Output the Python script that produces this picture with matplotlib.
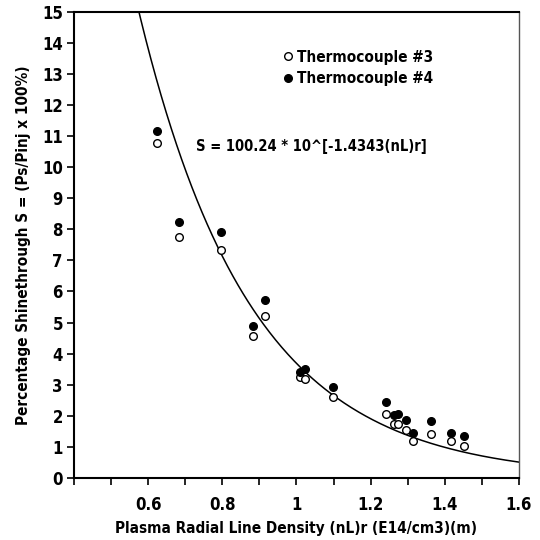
import numpy as np
import matplotlib
matplotlib.use("Agg")
import matplotlib.pyplot as plt
from matplotlib.ticker import MultipleLocator, FuncFormatter

plt.rcParams['font.family'] = ['DejaVu Sans']
plt.rcParams['font.stretch'] = 'condensed'
plt.rcParams['font.weight'] = 'bold'

# measured density (nL)r for each shot
density = [0.623, 0.682, 0.796, 0.882, 0.916, 1.010, 1.024, 1.099,
           1.242, 1.262, 1.273, 1.295, 1.315, 1.364, 1.418, 1.451]
# thermocouple #3 (open circles)
tc3 = [10.79, 7.77, 7.34, 4.57, 5.22, 3.25, 3.18, 2.61,
       2.05, 1.73, 1.73, 1.55, 1.19, 1.42, 1.19, 1.04]
# thermocouple #4 (filled circles)
tc4 = [11.18, 8.25, 7.92, 4.90, 5.72, 3.42, 3.52, 2.93,
       2.45, 2.02, 2.06, 1.87, 1.46, 1.83, 1.46, 1.36]

# fit S = a * 10^(b x)
fit_a = 100.24
fit_b = -1.4343

fig = plt.figure(figsize=(5.4, 5.4), dpi=100)
ax = fig.add_axes([0.137, 0.115, 0.824, 0.863])

xs = np.linspace(0.5, 1.6, 400)
ax.plot(xs, fit_a * 10 ** (fit_b * xs), color='black', lw=1.1, zorder=2)

ax.plot(density, tc3, 'o', mfc='white', mec='black', mew=1.0, ms=5.5,
        linestyle='none', label='Thermocouple #3', zorder=3)
ax.plot(density, tc4, 'o', mfc='black', mec='black', mew=1.0, ms=5.5,
        linestyle='none', label='Thermocouple #4', zorder=3)

ax.set_xlim(0.4, 1.6)
ax.set_ylim(0, 15)
ax.xaxis.set_major_locator(MultipleLocator(0.2))
ax.xaxis.set_minor_locator(MultipleLocator(0.1))
ax.yaxis.set_major_locator(MultipleLocator(1))

def xfmt(v, pos):
    if abs(v - 0.4) < 1e-6:
        return ''
    return f'{v:g}'
ax.xaxis.set_major_formatter(FuncFormatter(xfmt))

ax.tick_params(axis='both', which='major', direction='out', length=5,
               width=1.2, labelsize=12, pad=3)
ax.tick_params(axis='x', which='minor', direction='out', length=5, width=1.2)
ax.tick_params(axis='x', pad=8)
for lab in ax.get_xticklabels() + ax.get_yticklabels():
    lab.set_fontweight('bold')

for s in ['top', 'left', 'bottom']:
    ax.spines[s].set_linewidth(1.5)
    ax.spines[s].set_color('black')
ax.spines['right'].set_linewidth(1.0)
ax.spines['right'].set_color('#555555')

ax.set_xlabel('Plasma Radial Line Density (nL)r (E14/cm3)(m)',
              fontsize=11, fontweight='bold', labelpad=5)
ax.set_ylabel('Percentage Shinethrough S = (Ps/Pinj x 100%)',
              fontsize=11, fontweight='bold', labelpad=8)

ax.text(0.73, 10.66, 'S = 100.24 * 10^[-1.4343(nL)r]',
        ha='left', va='center', fontsize=10.5, fontweight='bold')

leg = ax.legend(loc='center left', bbox_to_anchor=(0.96, 13.2),
                bbox_transform=ax.transData, frameon=False,
                fontsize=11, handletextpad=0.2, handlelength=0.8,
                borderaxespad=0, borderpad=0, labelspacing=0.4)
for t in leg.get_texts():
    t.set_fontweight('bold')

fig.savefig('out.png', dpi=100)
